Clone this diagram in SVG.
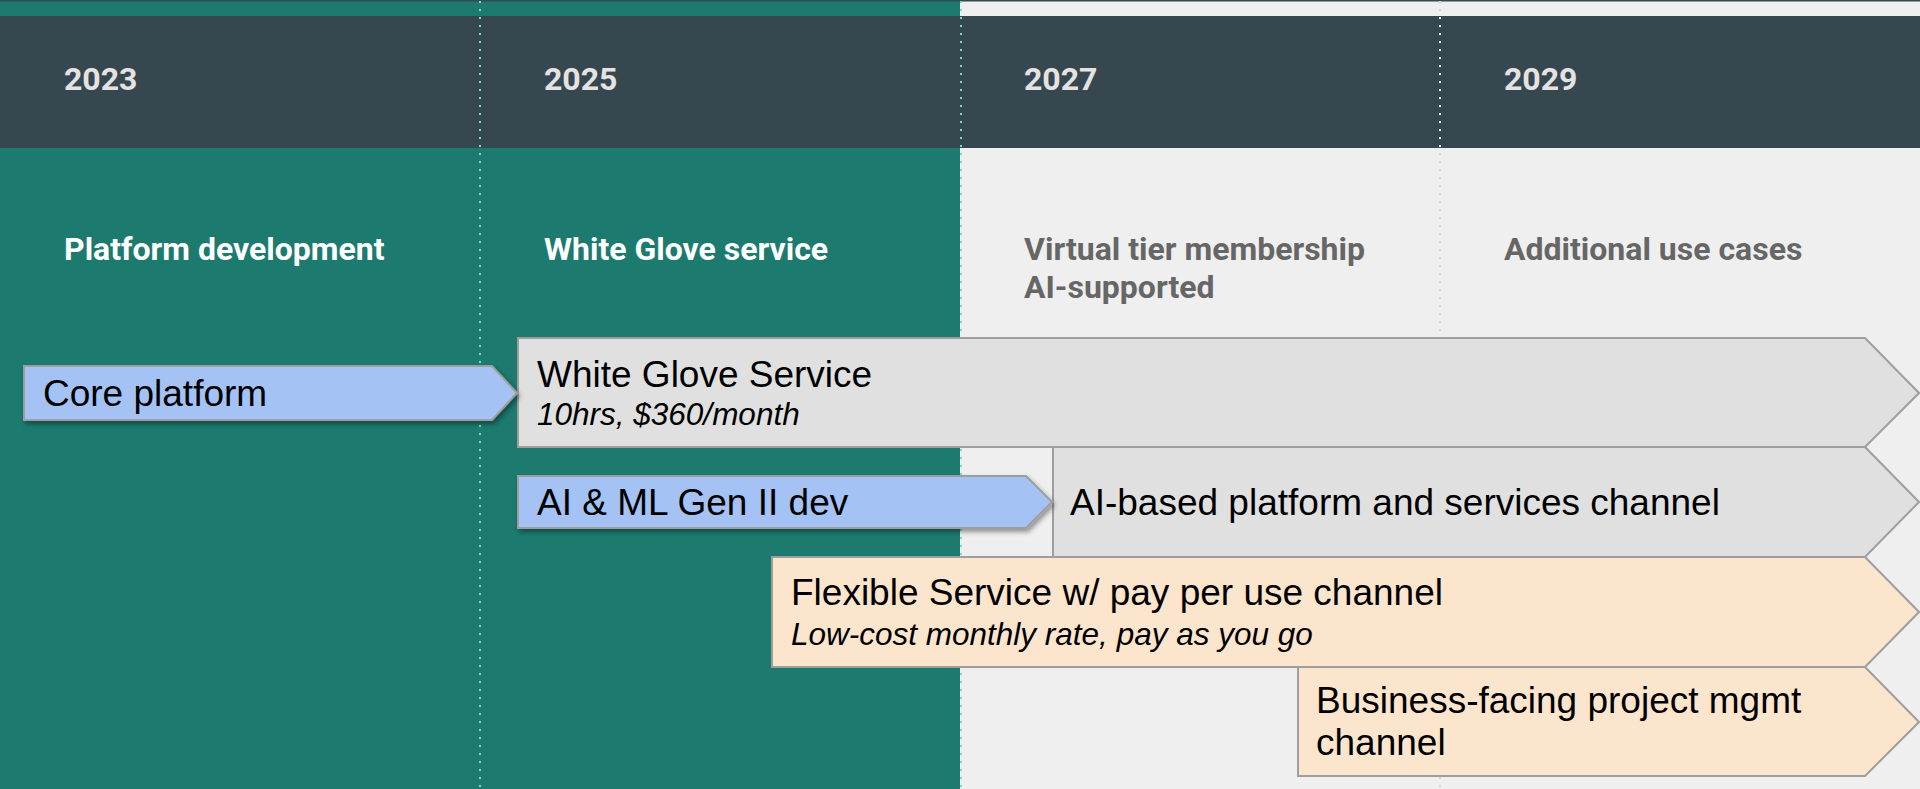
<svg xmlns="http://www.w3.org/2000/svg" width="1920" height="789" viewBox="0 0 1920 789">
<defs>
<style>
.year{font-family:Roboto,"Liberation Sans",sans-serif;font-weight:700;font-size:32px;fill:#e3e3e3}
.phase{font-family:Roboto,"Liberation Sans",sans-serif;font-weight:700;font-size:32px}
.lbl{font-family:"Liberation Sans",Arial,sans-serif;font-size:37px;fill:#000}
.sub{font-family:"Liberation Sans",Arial,sans-serif;font-style:italic;font-size:31.5px;fill:#000}
.box{stroke:#9e9e9e;stroke-width:2;stroke-linejoin:miter}
.gray{fill:#e0e0e0}
.blue{fill:#a4c2f4}
.peach{fill:#fce5cd}
.dot{stroke-width:2;stroke-dasharray:2 6;fill:none}
</style>
<filter id="sh" x="-5%" y="-20%" width="112%" height="150%">
<feDropShadow dx="2" dy="3" stdDeviation="2.5" flood-color="#000" flood-opacity="0.4"/>
</filter>
</defs>
<g id="background">
<rect x="0" y="0" width="1920" height="789" fill="#efefef"/>
<rect x="0" y="0" width="960" height="789" fill="#1c7a6e"/>
<rect x="0" y="0" width="1920" height="1.5" fill="#37474f"/>
<rect x="0" y="16" width="1920" height="132" fill="#37474f"/>
</g>
<g id="gridlines">
<line class="dot" x1="480" y1="1" x2="480" y2="789" stroke="#6fe0c8"/>
<line class="dot" x1="961" y1="1" x2="961" y2="789" stroke="#6fe0c8"/>
<line class="dot" x1="1440" y1="1" x2="1440" y2="17" stroke="#d4d4d4"/>
<line class="dot" x1="1440" y1="17" x2="1440" y2="148" stroke="#ffffff"/>
<line class="dot" x1="1440" y1="153" x2="1440" y2="789" stroke="#d4d4d4"/>
</g>
<g id="header">
<text class="year" x="64" y="90">2023</text>
<text class="year" x="544" y="90">2025</text>
<text class="year" x="1024" y="90">2027</text>
<text class="year" x="1504" y="90">2029</text>
<text class="phase" x="64" y="260" fill="#ffffff">Platform development</text>
<text class="phase" x="544" y="260" fill="#ffffff">White Glove service</text>
<text class="phase" x="1024" y="260" fill="#666666">Virtual tier membership</text>
<text class="phase" x="1024" y="298" fill="#666666">AI-supported</text>
<text class="phase" x="1504" y="260" fill="#666666">Additional use cases</text>
</g>
<g id="connectors"></g>
<g id="white-glove">
<path class="box gray" d="M518,338 H1865 L1919,393 L1865,447 H518 Z"/>
<text class="lbl" x="537" y="387">White Glove Service</text>
<text class="sub" x="537" y="425">10hrs, $360/month</text>
</g>
<g id="ai-based">
<path class="box gray" d="M1053,447 H1865 L1919,502 L1865,557 H1053 Z"/>
<text class="lbl" x="1070" y="515">AI-based platform and services channel</text>
</g>
<g id="flexible">
<path class="box peach" d="M772,557 H1865 L1919,612 L1865,667 H772 Z"/>
<text class="lbl" x="791" y="605">Flexible Service w/ pay per use channel</text>
<text class="sub" x="791" y="645">Low-cost monthly rate, pay as you go</text>
</g>
<g id="business">
<path class="box peach" d="M1298,667 H1865 L1919,722 L1865,776 H1298 Z"/>
<text class="lbl" x="1316" y="713">Business-facing project mgmt</text>
<text class="lbl" x="1316" y="755">channel</text>
</g>
<g id="core-platform">
<path class="box blue" filter="url(#sh)" d="M24,366 H492 L517,393 L492,420 H24 Z"/>
<text class="lbl" x="43" y="406">Core platform</text>
</g>
<g id="ai-ml">
<path class="box blue" filter="url(#sh)" d="M518,476 H1026 L1052,502 L1026,528 H518 Z"/>
<text class="lbl" x="537" y="515">AI &amp; ML Gen II dev</text>
</g>
</svg>
